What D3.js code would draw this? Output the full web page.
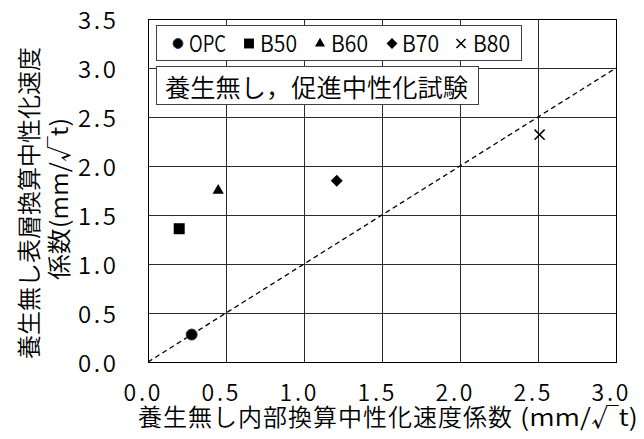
<!DOCTYPE html>
<html>
<head>
<meta charset="utf-8">
<script src="https://cdn.jsdelivr.net/npm/d3@7"></script>
<style>
  html, body { margin: 0; padding: 0; background: #fff; }
  svg { display: block; }
  text { font-family: "Noto Sans CJK JP", "Noto Sans", sans-serif; font-weight: 350; fill: #000; }
</style>
</head>
<body>
<svg id="chart" width="644" height="439"></svg>
<script>
// Carbonation rate coefficients, no curing (mm/√t)
const series = ["OPC", "B50", "B60", "B70", "B80"];
const innerRate = [0.28, 0.20, 0.45, 1.21, 2.51];     // internal converted rate
const surfaceRate = [0.28, 1.36, 1.75, 1.85, 2.32];   // surface-layer converted rate
const xTicks = [0.0, 0.5, 1.0, 1.5, 2.0, 2.5, 3.0];
const yTicks = [0.0, 0.5, 1.0, 1.5, 2.0, 2.5, 3.0, 3.5];
const xTitle = "養生無し内部換算中性化速度係数";
const xUnit = "(mm/√t)";
const yTitle1 = "養生無し表層換算中性化速度";
const yTitle2 = "係数(mm/√t)";
const note = "養生無し，促進中性化試験";

const svg = d3.select("#chart");
const L = 148, R = 616, T = 19, B = 362;

const x = d3.scaleLinear().domain([0, 3.0]).range([L, R]);
const y = d3.scaleLinear().domain([0, 3.5]).range([B, T]);

// grid
const grid = svg.append("g").attr("stroke", "#2b2b2b").attr("stroke-width", 1).attr("shape-rendering", "crispEdges");
grid.selectAll(".gx").data(xTicks.slice(1, -1)).join("line")
  .attr("x1", d => Math.round(x(d)) + 0.5).attr("x2", d => Math.round(x(d)) + 0.5)
  .attr("y1", T).attr("y2", B);
grid.selectAll(".gy").data(yTicks.slice(1, -1)).join("line")
  .attr("y1", d => Math.round(y(d)) + 0.5).attr("y2", d => Math.round(y(d)) + 0.5)
  .attr("x1", L).attr("x2", R);

// frame
svg.append("rect").attr("x", L + 0.5).attr("y", T + 0.5).attr("width", R - L).attr("height", B - T)
  .attr("fill", "none").attr("stroke", "#000").attr("stroke-width", 1).attr("shape-rendering", "crispEdges");

// 1:1 reference line
svg.append("line")
  .attr("x1", x(0)).attr("y1", y(0)).attr("x2", x(3.0)).attr("y2", y(3.0))
  .attr("stroke", "#000").attr("stroke-width", 1.3).attr("stroke-dasharray", "5,3.5");

// tick labels
svg.append("g").selectAll("text").data(yTicks).join("text")
  .attr("x", 116).attr("y", d => y(d) - 1)
  .attr("text-anchor", "end").attr("dominant-baseline", "central")
  .attr("font-size", 24).attr("textLength", 38).attr("lengthAdjust", "spacing")
  .text(d => d.toFixed(1));
svg.append("g").selectAll("text").data(xTicks).join("text")
  .attr("x", d => x(d) - 6).attr("y", 401)
  .attr("text-anchor", "middle")
  .attr("font-size", 23).attr("textLength", 37).attr("lengthAdjust", "spacing")
  .text(d => d.toFixed(1));

// axis titles
svg.append("text").attr("x", 138).attr("y", 426).attr("font-size", 24)
  .attr("textLength", 374).attr("lengthAdjust", "spacing").text(xTitle);
svg.append("text").attr("x", 520).attr("y", 426).attr("font-size", 24)
  .attr("textLength", 118).attr("lengthAdjust", "spacingAndGlyphs").text(xUnit);
svg.append("text").attr("transform", "translate(27,203) rotate(-90)")
  .attr("text-anchor", "middle").attr("dominant-baseline", "central")
  .attr("font-size", 24).text(yTitle1);
svg.append("text").attr("transform", "translate(57,199) rotate(-90)")
  .attr("text-anchor", "middle").attr("dominant-baseline", "central")
  .attr("font-size", 24).attr("textLength", 162).attr("lengthAdjust", "spacingAndGlyphs").text(yTitle2);

// marker shapes per series
function marker(sel, i, scale) {
  const k = scale || 1;
  if (i === 0) {
    sel.append("circle").attr("r", 5.5 * k).attr("fill", "#000").attr("stroke", "#1f3864").attr("stroke-width", 1);
  } else if (i === 1) {
    sel.append("path").attr("d", d3.symbol(d3.symbolSquare, 121 * k * k)()).attr("fill", "#000");
  } else if (i === 2) {
    sel.append("path").attr("d", d3.symbol(d3.symbolTriangle, 55 * k * k)()).attr("fill", "#000");
  } else if (i === 3) {
    sel.append("path").attr("d", d3.symbol(d3.symbolSquare, 72 * k * k)()).attr("transform", "rotate(45)").attr("fill", "#000");
  } else {
    sel.append("path").attr("d", d3.symbol(d3.symbolTimes, 68 * k * k)()).attr("fill", "none")
      .attr("stroke", "#000").attr("stroke-width", 1.5);
  }
}

// data points
const pts = svg.append("g");
series.forEach((s, i) => {
  const g = pts.append("g").attr("transform", `translate(${x(innerRate[i])},${y(surfaceRate[i])})`);
  marker(g, i, 1);
});

// legend
svg.append("rect").attr("x", 156.5).attr("y", 25.5).attr("width", 365).attr("height", 35)
  .attr("fill", "#fff").attr("stroke", "#404040").attr("stroke-width", 1);
const legMarkX = [178, 249, 320, 392, 461];
const legTextX = [189, 260, 331, 402, 473];
series.forEach((s, i) => {
  const g = svg.append("g").attr("transform", `translate(${legMarkX[i]},43.5)`);
  marker(g, i, 0.9);
  svg.append("text").attr("x", legTextX[i]).attr("y", 52).attr("font-size", 23)
    .attr("textLength", 37).attr("lengthAdjust", "spacingAndGlyphs").text(s);
});

// condition note
svg.append("rect").attr("x", 156.5).attr("y", 66.5).attr("width", 322).attr("height", 38)
  .attr("fill", "#fff").attr("stroke", "#404040").attr("stroke-width", 1);
svg.append("text").attr("x", 165).attr("y", 86).attr("dominant-baseline", "central")
  .attr("font-size", 25).attr("textLength", 303).attr("lengthAdjust", "spacingAndGlyphs").text(note);
</script>
</body>
</html>
